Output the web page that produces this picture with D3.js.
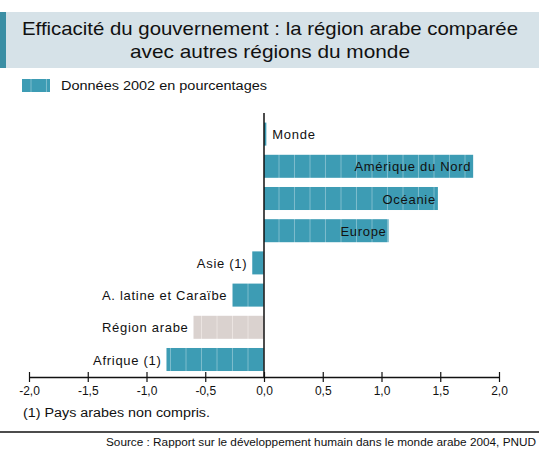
<!DOCTYPE html>
<html>
<head>
	<script src="https://d3js.org/d3.v7.min.js"></script>
	<style>
		body { margin: 0; background: #fff; }
		text { font-family: "Liberation Sans", Arial, sans-serif; fill: #111; }
	</style>
</head>
<body>
	<div class="chart"></div>
	<script>
		var regions = ["Monde", "Amérique du Nord", "Océanie", "Europe", "Asie (1)", "A. latine et Caraïbe", "Région arabe", "Afrique (1)"];
		var values = [0.02, 1.78, 1.48, 1.06, -0.10, -0.27, -0.60, -0.83];
		var ticks = [-2, -1.5, -1, -0.5, 0, 0.5, 1, 1.5, 2];
		var highlight = "Région arabe";

		var w = 539, h = 451;
		var svg = d3.select(".chart")
			.append("svg")
			.attr("width", w)
			.attr("height", h);

		// stripe patterns for the bars
		var defs = svg.append("defs");
		function stripes(id, base, line) {
			var p = defs.append("pattern")
				.attr("id", id)
				.attr("patternUnits", "userSpaceOnUse")
				.attr("x", 264).attr("width", 15.5).attr("height", 10);
			p.append("rect").attr("width", 15.5).attr("height", 10).attr("fill", base);
			p.append("rect").attr("x", 14.5).attr("width", 1).attr("height", 10).attr("fill", line);
		}
		stripes("teal", "#3d9cb4", "#7dbccc");
		stripes("grey", "#dad2cf", "#ebe4e1");

		// title box
		svg.append("rect").attr("x", 0).attr("y", 12).attr("width", w).attr("height", 56).attr("fill", "#d6e2e8");
		svg.append("rect").attr("x", 0).attr("y", 12).attr("width", 6).attr("height", 56).attr("fill", "#3a8ea4");
		svg.append("text").attr("x", 270).attr("y", 35).attr("text-anchor", "middle")
			.style("font-size", "19px").attr("textLength", 496).attr("lengthAdjust", "spacingAndGlyphs")
			.text("Efficacité du gouvernement : la région arabe comparée");
		svg.append("text").attr("x", 270).attr("y", 58).attr("text-anchor", "middle")
			.style("font-size", "19px").attr("textLength", 280).attr("lengthAdjust", "spacingAndGlyphs")
			.text("avec autres régions du monde");

		// legend
		svg.append("rect").attr("x", 22).attr("y", 79).attr("width", 28).attr("height", 13).attr("fill", "url(#teal)");
		svg.append("text").attr("x", 61).attr("y", 90).style("font-size", "12px")
			.attr("textLength", 206).attr("lengthAdjust", "spacingAndGlyphs")
			.text("Données 2002 en pourcentages");

		var x = d3.scaleLinear().domain([-2, 2]).range([29, 499]);
		var y = d3.scaleBand().domain(regions).range([118, 375.6]).paddingInner(0.285).paddingOuter(0.1425);

		var data = regions.map(function(r, i) { return {name: r, value: values[i]}; });

		svg.append("g").selectAll("rect")
			.data(data)
			.enter()
			.append("rect")
			.attr("x", function(d) { return x(Math.min(0, d.value)); })
			.attr("y", function(d) { return y(d.name); })
			.attr("width", function(d) { return Math.abs(x(d.value) - x(0)); })
			.attr("height", y.bandwidth())
			.attr("fill", function(d) { return d.name == highlight ? "url(#grey)" : "url(#teal)"; });

		svg.append("g").selectAll("text")
			.data(data)
			.enter()
			.append("text")
			.style("font-size", "13px")
			.style("letter-spacing", "0.7px")
			.attr("y", function(d) { return y(d.name) + y.bandwidth() / 2 + 5; })
			.attr("x", function(d) {
				if (d.value < 0) return x(d.value) - 5;
				if (x(d.value) - x(0) < 60) return x(d.value) + 6;
				return x(d.value) - 2;
			})
			.attr("text-anchor", function(d) {
				return (d.value >= 0 && x(d.value) - x(0) < 60) ? "start" : "end";
			})
			.text(function(d) { return d.name; });

		// zero line
		svg.append("line").attr("x1", x(0)).attr("x2", x(0)).attr("y1", 113).attr("y2", 377)
			.attr("stroke", "#111").attr("stroke-width", 1.5);

		// x axis
		var axis = svg.append("g")
			.attr("transform", "translate(0,377)")
			.call(d3.axisBottom(x).tickValues(ticks).tickSizeInner(5).tickSizeOuter(0)
				.tickFormat(function(d) { return d3.format(".1f")(d).replace(".", ",").replace("−", "-"); }));
		axis.select(".domain").attr("stroke", "#111").attr("stroke-width", 1.5);
		axis.selectAll(".tick line").attr("y1", -5).attr("stroke", "#111").attr("stroke-width", 1.2);
		axis.selectAll(".tick text").attr("y", 9).style("font-size", "12px").style("font-family", "'Liberation Sans', Arial, sans-serif").attr("fill", "#111");

		// notes
		svg.append("text").attr("x", 23).attr("y", 417).style("font-size", "12px")
			.attr("textLength", 187).attr("lengthAdjust", "spacingAndGlyphs")
			.text("(1) Pays arabes non compris.");
		svg.append("line").attr("x1", 0).attr("x2", w).attr("y1", 432).attr("y2", 432).attr("stroke", "#111").attr("stroke-width", 1.5);
		svg.append("text").attr("x", 106).attr("y", 446).style("font-size", "10px")
			.attr("textLength", 430).attr("lengthAdjust", "spacingAndGlyphs")
			.text("Source : Rapport sur le développement humain dans le monde arabe 2004, PNUD");
	</script>
</body>
</html>
